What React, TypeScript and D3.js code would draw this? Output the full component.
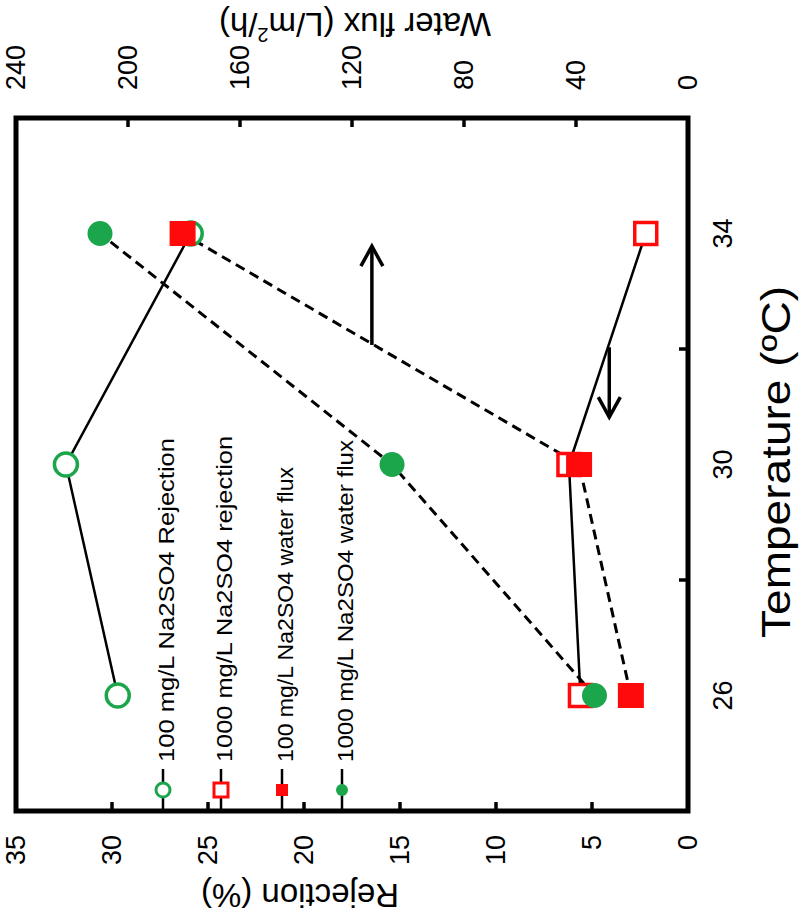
import React from 'react';
import * as d3 from 'd3';

const temperatures = [26, 30, 34];
const rejection100 = [29.7, 32.4, 25.9];
const rejection1000 = [5.6, 6.2, 2.2];
const flux100 = [20.4, 38.9, 180.5];
const flux1000 = [33.4, 105.7, 210];
const rejectionTicks = [0, 5, 10, 15, 20, 25, 30, 35];
const fluxTicks = [0, 40, 80, 120, 160, 200, 240];
const tempLabelTicks = [26, 30, 34];
const tempMinorTicks = [28, 32];
const legendLabels = [
  '100 mg/L Na2SO4 Rejection',
  '1000 mg/L Na2SO4 rejection',
  '100 mg/L Na2SO4 water flux',
  '1000 mg/L Na2SO4 water flux',
];
// arrows: [axis value, temp start, temp end]
const fluxArrow = [112.9, 32.07, 33.78];
const rejArrow = [4.1, 32.03, 30.82];

const W = 800, H = 917;
const L = 16, R = 688, T = 118, B = 811;
const GREEN = '#1ca64c';
const RED = '#ff0a0a';
const FONT = 'Liberation Sans, Arial, sans-serif';

export default function App() {
  const yT = d3.scaleLinear().domain([24, 36]).range([B, T]);
  const xR = d3.scaleLinear().domain([0, 35]).range([R, L]);
  const xF = d3.scaleLinear().domain([0, 240]).range([R, L]);
  const line = d3.line<[number, number]>().x(d => d[0]).y(d => d[1]);

  const pts = (vals: number[], sx: d3.ScaleLinear<number, number>) =>
    temperatures.map((t, i) => [sx(vals[i]), yT(t)] as [number, number]);

  const pR100 = pts(rejection100, xR);
  const pR1000 = pts(rejection1000, xR);
  const pF100 = pts(flux100, xF);
  const pF1000 = pts(flux1000, xF);

  const legendX = [163, 221, 282, 342];
  const legendY = 790;
  const legendLen = [324, 326, 295, 322];

  const arrowHead = (x: number, y: number, dir: number) => {
    const w = 11, h = 20;
    return `M${x - w},${y - dir * h} L${x},${y} L${x + w},${y - dir * h}`;
  };
  const a1x = xF(fluxArrow[0]), a1y0 = yT(fluxArrow[1]), a1y1 = yT(fluxArrow[2]);
  const a2x = xR(rejArrow[0]), a2y0 = yT(rejArrow[1]), a2y1 = yT(rejArrow[2]);

  return (
    <svg width={W} height={H} style={{ position: 'absolute', left: 0, top: 0, background: '#fff' }} fontFamily={FONT}>
      <rect x={0} y={0} width={W} height={H} fill="#fff" />
      {/* top ticks (flux) */}
      {fluxTicks.slice(1, -1).map(v => (
        <line key={'ft' + v} x1={xF(v)} x2={xF(v)} y1={T} y2={T + 9} stroke="#000" strokeWidth={3.5} />
      ))}
      {fluxTicks.map(v => (
        <text key={'fl' + v} transform={`translate(${xF(v)},90) rotate(-90)`} textAnchor="start" dominantBaseline="central" fontSize={27}>{v}</text>
      ))}
      {/* bottom ticks (rejection) */}
      {rejectionTicks.slice(1, -1).map(v => (
        <line key={'rt' + v} x1={xR(v)} x2={xR(v)} y1={B} y2={B - 9} stroke="#000" strokeWidth={3.5} />
      ))}
      {rejectionTicks.map(v => (
        <text key={'rl' + v} transform={`translate(${xR(v)},835) rotate(-90)`} textAnchor="end" dominantBaseline="central" fontSize={27}>{v}</text>
      ))}
      {/* right ticks (temperature) */}
      {tempMinorTicks.map(v => (
        <line key={'tt' + v} x1={R} x2={R - 9} y1={yT(v)} y2={yT(v)} stroke="#000" strokeWidth={3.5} />
      ))}
      {tempLabelTicks.map(v => (
        <text key={'tl' + v} transform={`translate(723,${yT(v)}) rotate(-90)`} textAnchor="middle" dominantBaseline="central" fontSize={27}>{v}</text>
      ))}
      {/* axis titles */}
      <text transform={`translate(776,462) rotate(-90)`} textAnchor="middle" dominantBaseline="central" fontSize={40} textLength={352} lengthAdjust="spacingAndGlyphs">Temperature  (ºC)</text>
      <text transform={`translate(300,895) rotate(180)`} textAnchor="middle" dominantBaseline="central" fontSize={33}>Rejection (%)</text>
      <text transform={`translate(355,24) rotate(180)`} textAnchor="middle" dominantBaseline="central" fontSize={33}>
        Water flux (L/m<tspan fontSize={20} baselineShift="super">2</tspan>/h)
      </text>

      {/* legend */}
      {legendLabels.map((lab, i) => (
        <g key={'lg' + i}>
          <line x1={legendX[i]} x2={legendX[i]} y1={769} y2={B} stroke="#000" strokeWidth={2.5} />
          <text transform={`translate(${legendX[i] + 3},762) rotate(-90)`} textAnchor="start" dominantBaseline="central" fontSize={22} textLength={legendLen[i]} lengthAdjust="spacingAndGlyphs">{lab}</text>
        </g>
      ))}
      <circle cx={legendX[0]} cy={legendY} r={7} fill="#fff" stroke={GREEN} strokeWidth={3} />
      <rect x={legendX[1] - 7} y={legendY - 7} width={14} height={14} fill="#fff" stroke={RED} strokeWidth={3} />
      <rect x={legendX[2] - 6} y={legendY - 6} width={12} height={12} fill={RED} />
      <circle cx={legendX[3]} cy={legendY} r={6} fill={GREEN} />

      {/* lines */}
      <path d={line(pR100) || ''} fill="none" stroke="#000" strokeWidth={2.5} />
      <path d={line(pR1000) || ''} fill="none" stroke="#000" strokeWidth={2.5} />
      <path d={line(pF100) || ''} fill="none" stroke="#000" strokeWidth={3} strokeDasharray="10 6" />
      <path d={line(pF1000) || ''} fill="none" stroke="#000" strokeWidth={3} strokeDasharray="10 6" />

      {/* markers */}
      {pR100.map((p, i) => (
        <circle key={'m1' + i} cx={p[0]} cy={p[1]} r={11.5} fill="#fff" stroke={GREEN} strokeWidth={3.5} />
      ))}
      {pR1000.map((p, i) => (
        <rect key={'m2' + i} x={p[0] - 11} y={p[1] - 11} width={22} height={22} fill="#fff" stroke={RED} strokeWidth={3.5} />
      ))}
      {pF100.map((p, i) => (
        <rect key={'m3' + i} x={p[0] - 13} y={p[1] - 12.5} width={26} height={25} fill={RED} />
      ))}
      {pF1000.map((p, i) => (
        <circle key={'m4' + i} cx={p[0]} cy={p[1]} r={12.5} fill={GREEN} />
      ))}

      {/* arrows */}
      <line x1={a1x} x2={a1x} y1={a1y0} y2={a1y1} stroke="#000" strokeWidth={3.5} />
      <path d={arrowHead(a1x, a1y1, -1)} fill="none" stroke="#000" strokeWidth={3.5} />
      <line x1={a2x} x2={a2x} y1={a2y0} y2={a2y1} stroke="#000" strokeWidth={3.5} />
      <path d={arrowHead(a2x, a2y1, 1)} fill="none" stroke="#000" strokeWidth={3.5} />

      {/* frame */}
      <rect x={L} y={T} width={R - L} height={B - T} fill="none" stroke="#000" strokeWidth={5} />
    </svg>
  );
}
